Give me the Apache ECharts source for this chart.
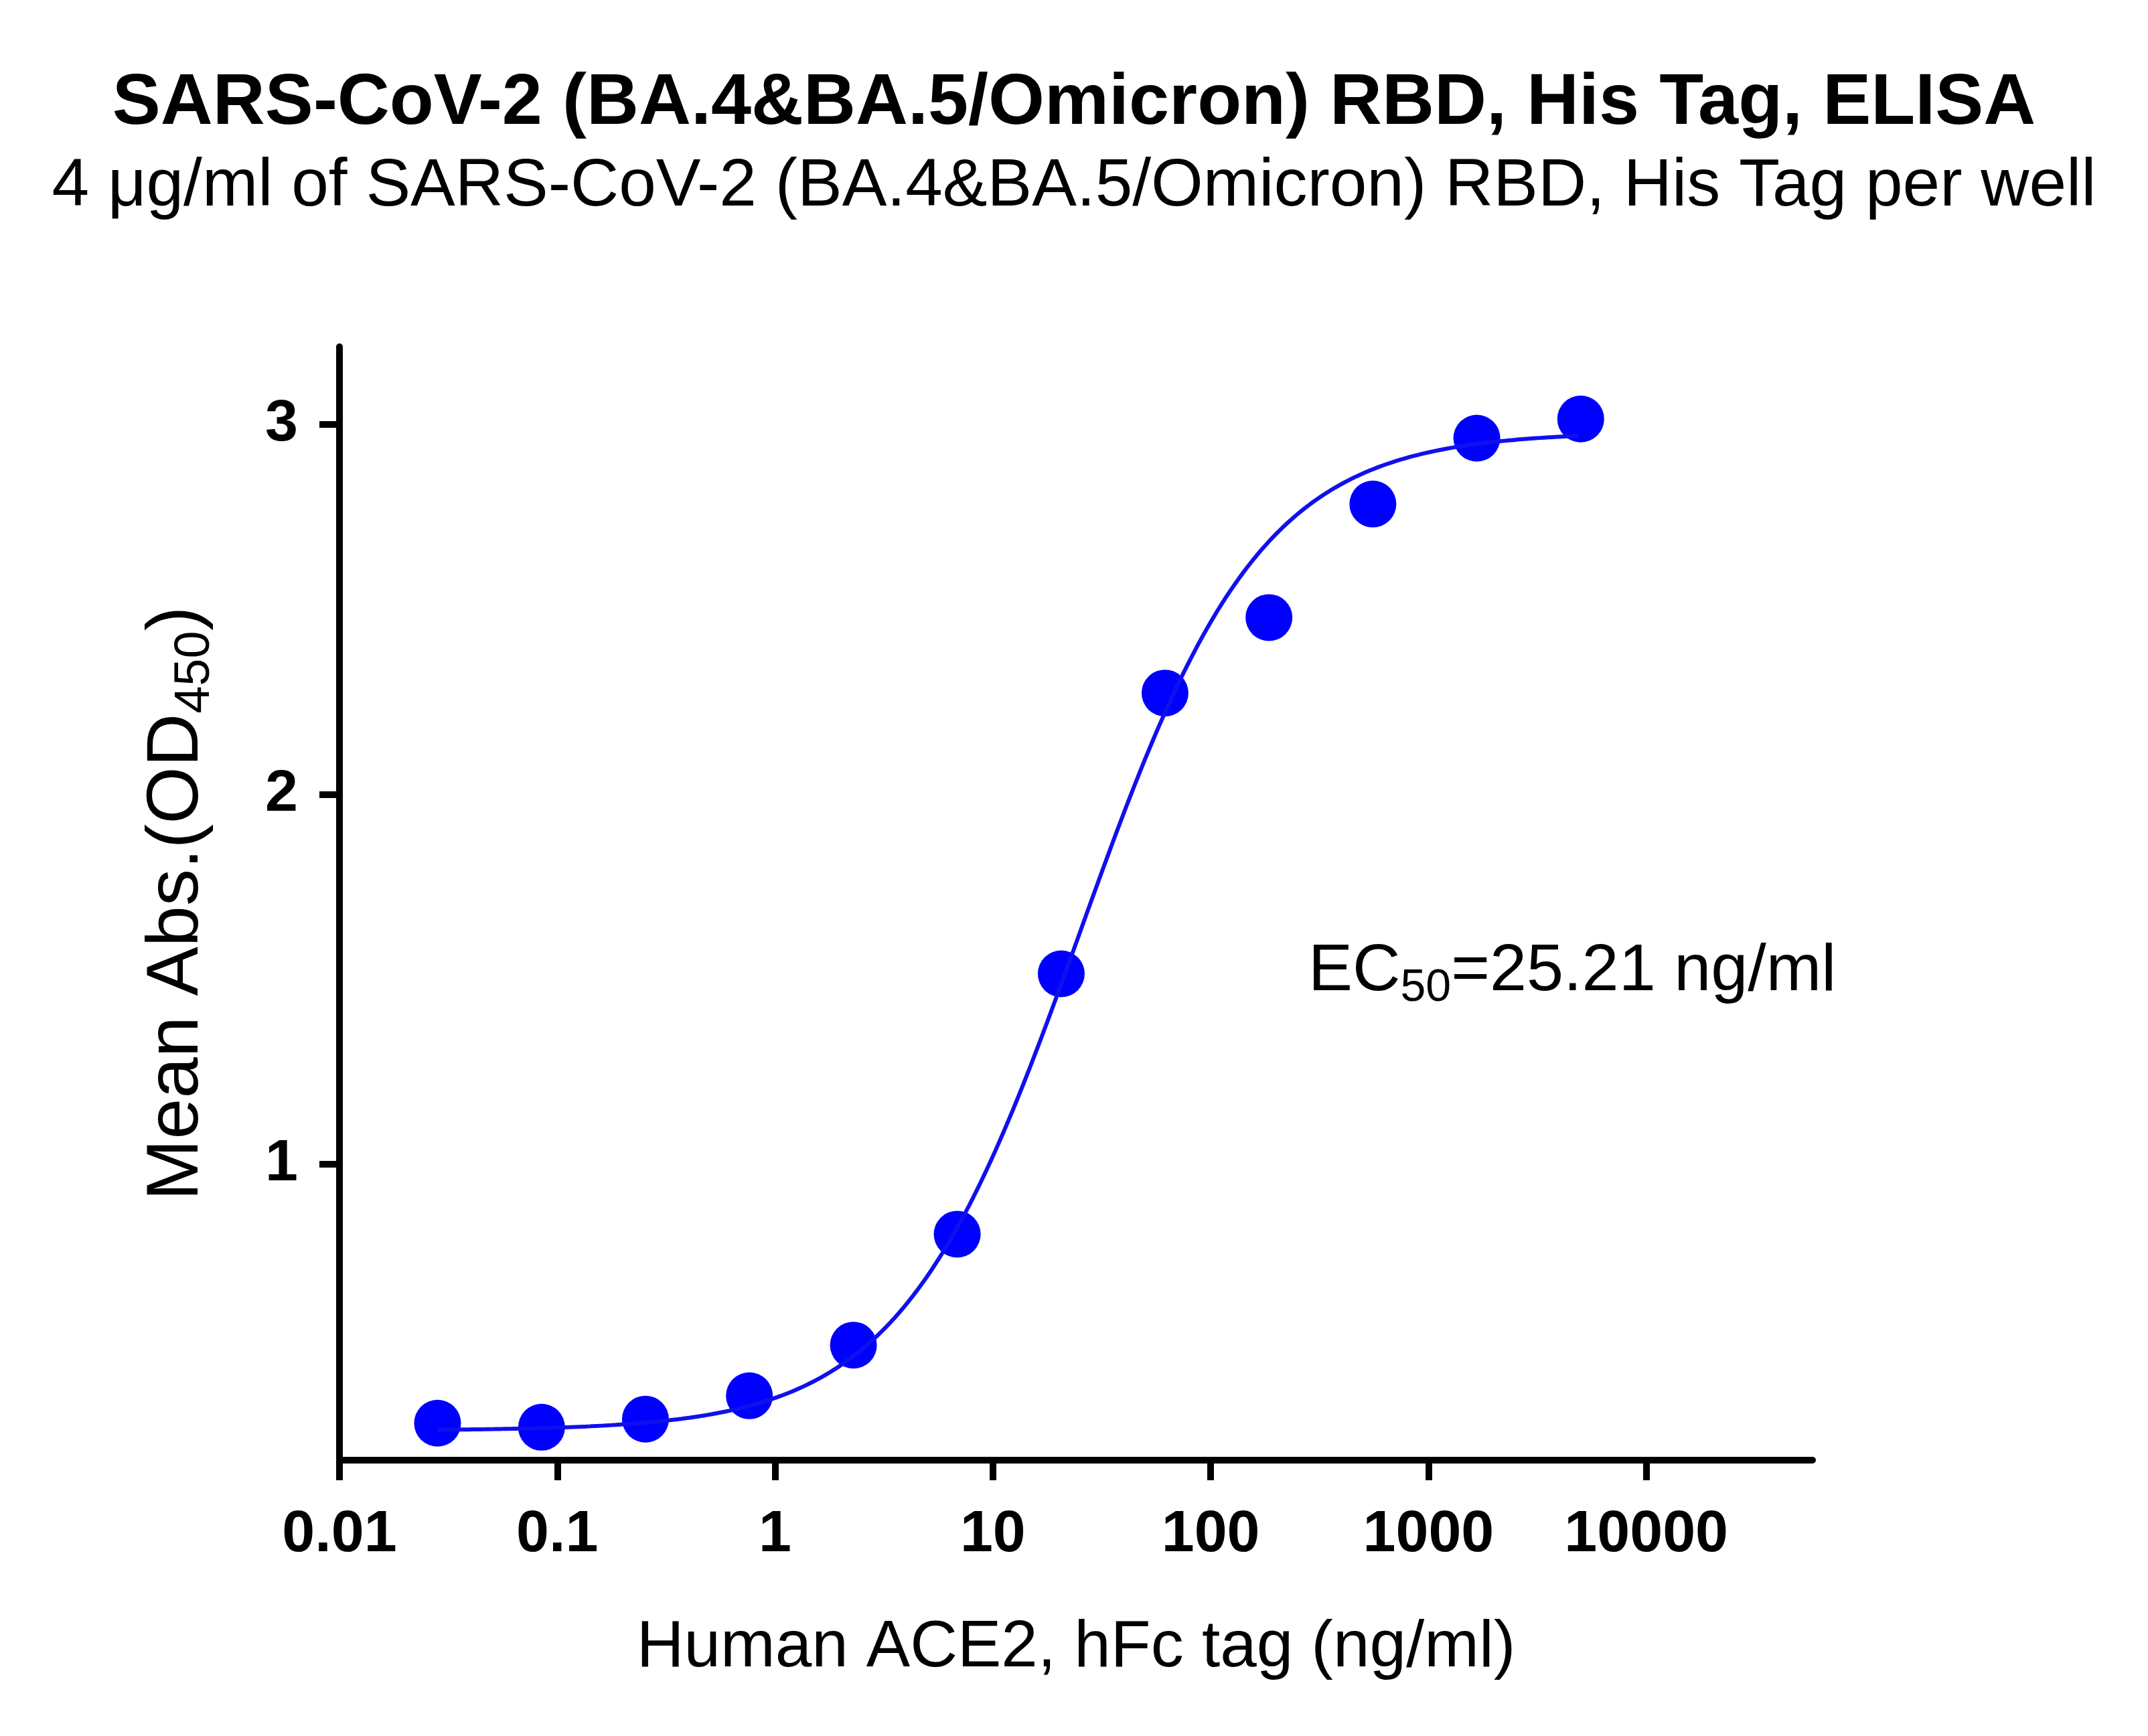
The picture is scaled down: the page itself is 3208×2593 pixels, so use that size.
<!DOCTYPE html>
<html><head><meta charset="utf-8">
<script src="https://cdn.jsdelivr.net/npm/echarts@6/dist/echarts.min.js"></script>
<style>html,body{margin:0;padding:0;background:#fff}#c{width:3208px;height:2593px}</style>
</head><body><div id="c"></div>
<script>
const concentrations=[0.0282,0.0847,0.254,0.762,2.29,6.86,20.6,61.7,185.2,555.6,1667,5000];
const absorbance=[0.30,0.289,0.311,0.374,0.511,0.811,1.515,2.274,2.478,2.785,2.963,3.015];
const xTicks=[0.01,0.1,1,10,100,1000,10000];
const yTicks=[1,2,3];
// 4PL fit parameters (curve drawn in the reference)
const fitBottom=0.28, fitTop=2.98, fitEC50=25.21, fitHill=1.05;
const curve=[];
for(let l=Math.log10(0.0282);l<=Math.log10(5000)+1e-9;l+=0.02){
  const x=Math.pow(10,l);
  curve.push([x,fitBottom+(fitTop-fitBottom)/(1+Math.pow(fitEC50/x,fitHill))]);
}
const ch=echarts.init(document.getElementById('c'));
const F='Liberation Sans, Arial, sans-serif';
ch.setOption({
  backgroundColor:'#fff',
  title:[
    {text:'SARS-CoV-2 (BA.4&BA.5/Omicron) RBD, His Tag, ELISA',left:'center',top:96,textStyle:{fontFamily:F,fontWeight:'bold',fontSize:108,color:'#000'}},
    {text:'4 μg/ml of SARS-CoV-2 (BA.4&BA.5/Omicron) RBD, His Tag per well',left:'center',top:224,textStyle:{fontFamily:F,fontWeight:'normal',fontSize:100,color:'#000'}}
  ],
  grid:{left:507,right:501,top:518,bottom:412},
  xAxis:{type:'log',logBase:10,min:0.01,max:58000,
    name:'Human ACE2, hFc tag (ng/ml)',nameLocation:'middle',nameGap:232,
    nameTextStyle:{fontFamily:F,fontSize:98,color:'#000'},
    axisLine:{lineStyle:{color:'#000',width:10}},
    axisTick:{length:30,lineStyle:{width:10,color:'#000'},customValues:xTicks},
    axisLabel:{customValues:xTicks,margin:68,fontFamily:F,fontWeight:'bold',fontSize:88,color:'#000',formatter:v=>String(+v.toPrecision(6))},
    splitLine:{show:false},minorTick:{show:false}},
  yAxis:{type:'value',min:0.2,max:3.21,
    name:'{a|Mean Abs.(OD}{s|450}{a|)}',nameLocation:'middle',nameGap:178,nameRotate:90,
    nameTextStyle:{rich:{a:{fontFamily:F,fontSize:110,color:'#000'},s:{fontFamily:F,fontSize:74,color:'#000',verticalAlign:'bottom',padding:[55,0,0,0]}}},
    axisLine:{show:true,lineStyle:{color:'#000',width:10}},
    axisTick:{show:true,length:30,lineStyle:{width:10,color:'#000'},customValues:yTicks},
    axisLabel:{customValues:yTicks,margin:62,fontFamily:F,fontWeight:'bold',fontSize:88,color:'#000'},
    splitLine:{show:false}},
  graphic:[{type:'text',left:1954,top:1402,style:{
    text:'{a|EC}{s|50}{a|=25.21 ng/ml}',
    rich:{a:{fontFamily:F,fontSize:99,fill:'#000'},s:{fontFamily:F,fontSize:68,fill:'#000',padding:[50,0,0,0]}}}}],
  series:[
    {type:'line',data:curve,showSymbol:false,smooth:false,lineStyle:{color:'#1010ee',width:6},silent:true},
    {type:'scatter',data:concentrations.map((c,i)=>[c,absorbance[i]]),symbolSize:70,itemStyle:{color:'#0000ff',opacity:1}}
  ]
});
</script></body></html>
